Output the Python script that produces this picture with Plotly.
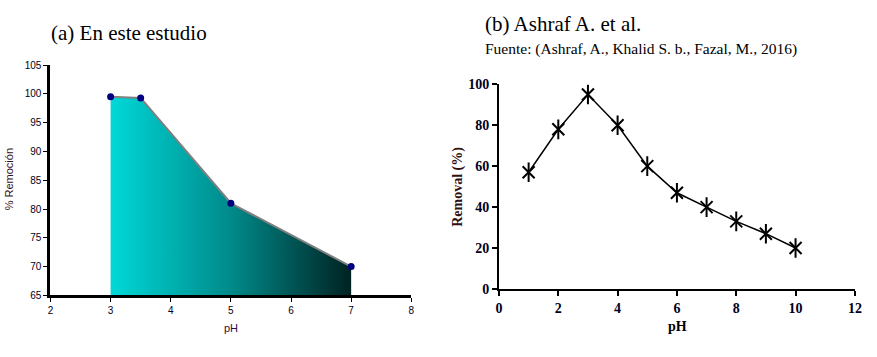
import plotly.graph_objects as go

# (a) En este estudio
ph_a = [3, 3.5, 5, 7]
rem_a = [99.5, 99.3, 81, 70]

# (b) Ashraf A. et al.
ph_b = [1, 2, 3, 4, 5, 6, 7, 8, 9, 10]
rem_b = [57, 78, 95, 80, 60, 47, 40, 33, 27, 20]

W, H = 877, 357

def px(x):
    return x / W

def py(y):
    return 1 - y / H

SERIF = "Liberation Serif, Times New Roman, serif"
SANS = "Arial, Liberation Sans, sans-serif"

fig = go.Figure()

fig.add_trace(go.Scatter(
    x=ph_a, y=rem_a, mode="lines+markers", fill="tozeroy",
    fillgradient=dict(type="horizontal", colorscale=[[0, "#00d8d8"], [0.5, "#008a8a"], [1, "#002222"]]),
    line=dict(color="#808080", width=2),
    marker=dict(color="#000080", size=7, symbol="circle"),
    xaxis="x", yaxis="y", showlegend=False,
))

fig.add_trace(go.Scatter(
    x=ph_b, y=rem_b, mode="lines+markers",
    line=dict(color="black", width=1.5),
    marker=dict(symbol="x-thin-open", size=12, color="black", line=dict(color="black", width=2)),
    xaxis="x2", yaxis="y2", showlegend=False,
))
fig.add_trace(go.Scatter(
    x=ph_b, y=rem_b, mode="markers",
    marker=dict(symbol="line-ns-open", size=14, color="black", line=dict(color="black", width=2)),
    xaxis="x2", yaxis="y2", showlegend=False,
))

small = dict(family=SANS, size=10, color="#000020")
bold_t = dict(family=SERIF, size=14, color="#000020", weight="bold")

fig.update_layout(
    width=W, height=H,
    margin=dict(l=0, r=0, t=0, b=0),
    paper_bgcolor="white", plot_bgcolor="white",
    xaxis=dict(domain=[px(48), px(413)], range=[2, 8], dtick=1, tick0=2,
               showgrid=False, zeroline=False, showline=True, linecolor="black", linewidth=3,
               ticks="outside", ticklen=4, tickwidth=1, tickcolor="black", tickfont=small, anchor="y"),
    yaxis=dict(domain=[py(301), py(60.7)], range=[65, 105], dtick=5, tick0=65,
               showgrid=False, zeroline=False, showline=True, linecolor="black", linewidth=3,
               ticks="outside", ticklen=4, tickwidth=1, tickcolor="black", tickfont=small, anchor="x"),
    xaxis2=dict(domain=[px(501.7), px(861.7)], range=[0, 12], dtick=2, tick0=0,
                showgrid=False, zeroline=False, showline=True, linecolor="black", linewidth=2,
                ticks="outside", ticklen=5, tickwidth=2, tickcolor="black",
                tickfont=bold_t, anchor="y2"),
    yaxis2=dict(domain=[py(294.3), py(80.7)], range=[0, 100], dtick=20, tick0=0,
                showgrid=False, zeroline=False, showline=True, linecolor="black", linewidth=2,
                ticks="outside", ticklen=5, tickwidth=2, tickcolor="black",
                tickfont=bold_t, anchor="x2"),
    annotations=[
        dict(text="(a) En este estudio", x=px(47), y=py(27), xref="paper", yref="paper",
             xanchor="left", yanchor="middle", showarrow=False,
             font=dict(family=SERIF, size=21, color="black")),
        dict(text="(b) Ashraf A. et al.", x=px(486), y=py(18), xref="paper", yref="paper",
             xanchor="left", yanchor="middle", showarrow=False,
             font=dict(family=SERIF, size=21, color="black")),
        dict(text="Fuente: (Ashraf, A., Khalid S. b., Fazal, M., 2016)", x=px(486), y=py(44),
             xref="paper", yref="paper", xanchor="left", yanchor="middle", showarrow=False,
             font=dict(family=SERIF, size=15.5, color="black")),
        dict(text="% Remoción", x=px(7), y=py(180), xref="paper", yref="paper",
             xanchor="center", yanchor="middle", showarrow=False, textangle=-90,
             font=dict(family=SANS, size=11, color="#301020")),
        dict(text="pH", x=px(231), y=py(335), xref="paper", yref="paper",
             xanchor="center", yanchor="middle", showarrow=False,
             font=dict(family=SANS, size=11, color="#301040")),
        dict(text="<b>Removal (%)</b>", x=px(460), y=py(188), xref="paper", yref="paper",
             xanchor="center", yanchor="middle", showarrow=False, textangle=-90,
             font=dict(family=SERIF, size=14, color="#301010")),
        dict(text="<b>pH</b>", x=px(682), y=py(334), xref="paper", yref="paper",
             xanchor="center", yanchor="middle", showarrow=False,
             font=dict(family=SERIF, size=14, color="black")),
    ],
)

fig.write_html("out.html")
